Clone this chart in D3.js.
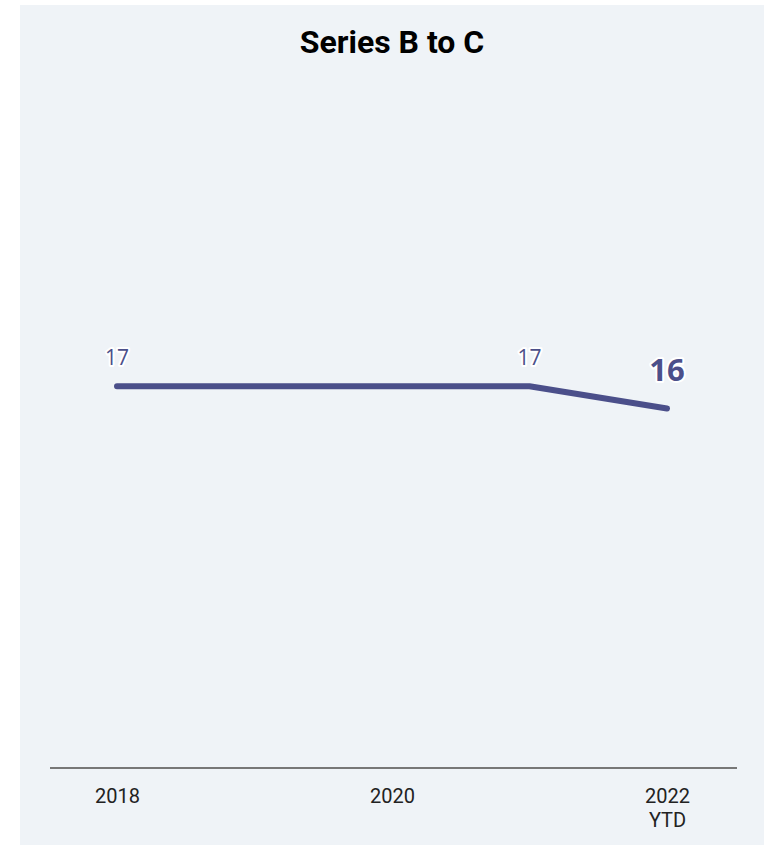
<!DOCTYPE html>
<html>
<head>
<meta charset="utf-8">
<script src="https://cdn.jsdelivr.net/npm/d3@7"></script>
<style>
  html, body { margin: 0; padding: 0; background: #ffffff; }
  svg { display: block; }
</style>
</head>
<body>
<svg id="chart" width="772" height="845"></svg>
<script>
const title = "Series B to C";
const years = [2018, 2019, 2020, 2021, 2022];
const values = [17.2, 17.2, 17.2, 17.2, 16.2];
const labelYears = [2018, 2021, 2022];
const tickYears = [2018, 2020, 2022];
const tickLabels = ["2018", "2020", "2022\nYTD"];

const svg = d3.select("#chart");

svg.append("rect").attr("x", 20).attr("y", 5).attr("width", 744).attr("height", 845)
  .attr("fill", "#eff3f7");

svg.append("text").attr("x", 392).attr("y", 53).attr("text-anchor", "middle")
  .attr("font-family", "Roboto, sans-serif").attr("font-weight", 700).attr("font-size", 32)
  .attr("fill", "#000").text(title);

const x = d3.scaleLinear().domain([2018, 2022]).range([117, 667]);
const y = d3.scaleLinear().domain([0, 31]).range([768, 80]);

const data = years.map((yr, i) => ({ year: yr, value: values[i] }));

const xAxis = d3.axisBottom(x).tickValues(tickYears).tickSize(0).tickFormat(() => "");
const axisG = svg.append("g").attr("transform", "translate(0,768)").call(xAxis);
axisG.select(".domain").remove();
axisG.append("line").attr("x1", 50).attr("x2", 737).attr("y1", 0).attr("y2", 0)
  .attr("stroke", "#777").attr("stroke-width", 2);
axisG.selectAll(".tick text").remove();
axisG.selectAll(".tick").each(function(d, i) {
  const lines = tickLabels[i].split("\n");
  const t = d3.select(this).append("text")
    .attr("text-anchor", "middle").attr("fill", "#222")
    .attr("font-family", "Roboto, sans-serif").attr("font-size", 20);
  lines.forEach((ln, j) => {
    t.append("tspan").attr("x", 0).attr("y", 35 + j * 24).text(ln);
  });
});

const line = d3.line().x(d => x(d.year)).y(d => y(d.value));
svg.append("path").datum(data).attr("d", line)
  .attr("fill", "none").attr("stroke", "#4b4f8a").attr("stroke-width", 6)
  .attr("stroke-linecap", "round").attr("stroke-linejoin", "round");

const lab = data.filter(d => labelYears.includes(d.year));
svg.selectAll("text.vlab").data(lab).join("text").attr("class", "vlab")
  .attr("x", d => x(d.year) + (d.year === 2022 ? 0 : 0))
  .attr("y", d => d.year === 2022 ? y(d.value) - 27 : y(d.value) - 21)
  .attr("text-anchor", "middle")
  .attr("font-family", "'Open Sans', sans-serif")
  .attr("font-weight", d => d.year === 2022 ? 700 : 400)
  .attr("font-size", d => d.year === 2022 ? 31 : 21)
  .attr("fill", "#4b4f8a")
  .attr("stroke", "#ffffff").attr("stroke-width", 4).attr("stroke-linejoin", "round")
  .attr("paint-order", "stroke")
  .text(d => d3.format(".0f")(d.value));
</script>
</body>
</html>
